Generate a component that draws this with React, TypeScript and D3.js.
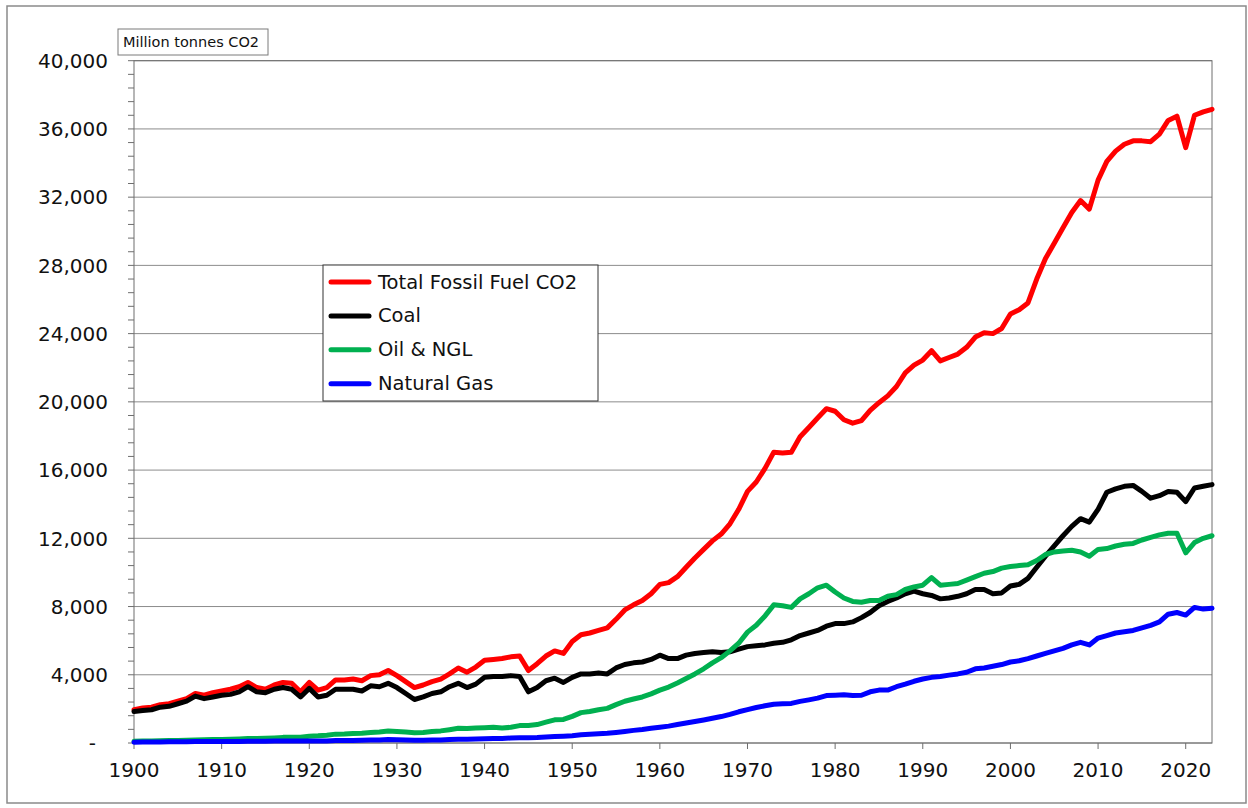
import React from "react";
import * as d3 from "d3";

const START_YEAR = 1900;

const totalCO2 = [
  1950, 2050, 2100, 2250, 2300, 2450, 2600, 2900, 2800, 2950,
  3050, 3150, 3300, 3550, 3250, 3150, 3400, 3550, 3500, 3000,
  3550, 3100, 3250, 3700, 3700, 3750, 3650, 3950, 4000, 4250,
  3950, 3600, 3250, 3400, 3600, 3750, 4050, 4400, 4150, 4450,
  4850, 4900, 4950, 5050, 5100, 4250, 4650, 5100, 5400, 5250,
  5950, 6350, 6450, 6600, 6750, 7250, 7800, 8100, 8350, 8750,
  9300, 9400, 9750, 10300, 10850, 11350, 11850, 12250, 12850, 13700,
  14750, 15300, 16100, 17050, 17000, 17050, 17950, 18500, 19050, 19600,
  19450, 18950, 18750, 18900, 19500, 19950, 20350, 20900, 21700, 22150,
  22450, 23000, 22400, 22600, 22800, 23200, 23800, 24050, 24000, 24300,
  25150, 25400, 25800, 27200, 28400, 29300, 30200, 31100, 31800, 31300,
  33000, 34100, 34700, 35100, 35300, 35300, 35250, 35700, 36500, 36750,
  34900, 36800, 37000, 37150,
];

const coal = [
  1850, 1900, 1950, 2100, 2150, 2300, 2450, 2750, 2600, 2700,
  2800, 2850, 3000, 3300, 3000, 2950, 3150, 3250, 3150, 2700,
  3200, 2700, 2800, 3150, 3150, 3150, 3050, 3350, 3300, 3500,
  3250, 2900, 2550, 2700, 2900, 3000, 3300, 3500, 3250, 3450,
  3850, 3900, 3900, 3950, 3900, 3000, 3250, 3650, 3800, 3550,
  3850, 4050, 4050, 4100, 4050, 4400, 4600, 4700, 4750, 4900,
  5150, 4950, 4950, 5150, 5250, 5300, 5350, 5300, 5350, 5500,
  5650, 5700, 5750, 5850, 5900, 6050, 6300, 6450, 6600, 6850,
  7000, 7000, 7100, 7350, 7650, 8050, 8300, 8500, 8750, 8900,
  8750, 8650, 8450, 8500, 8600, 8750, 9000, 9000, 8750, 8800,
  9200, 9300, 9650, 10300, 10950, 11550, 12150, 12700, 13150, 12950,
  13700, 14700, 14900, 15050, 15100, 14750, 14350, 14500, 14750, 14700,
  14150, 14950, 15050, 15150,
];

const oilNGL = [
  100, 110, 120, 130, 140, 150, 160, 180, 190, 200,
  210, 220, 240, 260, 270, 280, 300, 330, 330, 340,
  400, 420, 460, 520, 530, 560, 570, 620, 650, 700,
  680, 640, 600, 620, 680, 710, 780, 860, 850, 880,
  900, 930, 880, 920, 1020, 1030, 1080, 1220, 1360, 1380,
  1560, 1780, 1850, 1950, 2030, 2250, 2450, 2580, 2700, 2880,
  3100, 3280, 3520, 3780, 4050, 4350, 4700, 5000, 5400, 5850,
  6500, 6900, 7450, 8100, 8050, 7950, 8450, 8750, 9100, 9250,
  8850, 8500, 8300, 8250, 8350, 8350, 8600, 8700, 9000, 9150,
  9250, 9700, 9250, 9300, 9350, 9550, 9750, 9950, 10050, 10250,
  10350, 10400, 10450, 10700, 11050, 11200, 11250, 11300, 11200, 10950,
  11350, 11400, 11550, 11650, 11700, 11900, 12050, 12200, 12300, 12300,
  11150, 11750, 12000, 12150,
];

const naturalGas = [
  50, 55, 60, 65, 70, 75, 80, 85, 85, 90,
  90, 95, 95, 100, 100, 100, 110, 110, 110, 110,
  120, 110, 120, 140, 150, 150, 160, 170, 180, 200,
  190, 170, 160, 160, 170, 180, 200, 220, 220, 230,
  250, 260, 270, 290, 310, 310, 320, 350, 380, 400,
  430, 480, 510, 540, 570, 620, 680, 740, 790, 860,
  920, 990, 1080, 1170, 1260, 1350, 1450, 1550, 1680, 1830,
  1960, 2080, 2180, 2270, 2300, 2320, 2440, 2530, 2630, 2780,
  2800, 2830, 2780, 2800, 3000, 3100, 3100, 3300, 3450, 3620,
  3750, 3850, 3900, 3980, 4050, 4150, 4350, 4400, 4500, 4600,
  4750, 4820, 4950, 5100, 5250, 5400, 5550, 5750, 5900, 5750,
  6150, 6300, 6450, 6520, 6600, 6750, 6900, 7100, 7550, 7650,
  7500, 7950, 7850, 7900,
];

const seriesNames = ["Total Fossil Fuel CO2", "Coal", "Oil & NGL", "Natural Gas"];
const seriesColors = ["#ff0000", "#000000", "#00b050", "#0000ff"];
const seriesValues = [totalCO2, coal, oilNGL, naturalGas];

const yTickValues = [0, 4000, 8000, 12000, 16000, 20000, 24000, 28000, 32000, 36000, 40000];
const yMinorTickStep = 800;
const xTickValues = [1900, 1910, 1920, 1930, 1940, 1950, 1960, 1970, 1980, 1990, 2000, 2010, 2020];
const unitLabel = "Million tonnes CO2";

const W = 1248;
const H = 808;
const plot = { left: 134, right: 1212, top: 60.7, bottom: 743 };
const FONT = "'DejaVu Sans', Verdana, sans-serif";

export default function App() {
  const x = d3.scaleLinear().domain([1900, 2023]).range([plot.left, plot.right]);
  const y = d3.scaleLinear().domain([0, 40000]).range([plot.bottom, plot.top]);
  const line = d3
    .line<number>()
    .x((_, i) => x(START_YEAR + i))
    .y((d) => y(d))
    .curve(d3.curveLinear);

  const minorTicks = d3.range(0, 40000 + 1, yMinorTickStep);
  const fmt = d3.format(",");

  const legend = { x: 323, y: 265, w: 275, h: 136 };

  return (
    <svg
      width={W}
      height={H}
      style={{ position: "absolute", left: 0, top: 0, background: "#fff" }}
      fontFamily={FONT}
    >
      <rect x={0} y={0} width={W} height={H} fill="#fff" />
      <rect x={7} y={6} width={1239} height={797} fill="#fff" stroke="#8a8a8a" strokeWidth={1.5} />

      {/* gridlines */}
      {yTickValues.map((v) => (
        <line key={"g" + v} x1={plot.left} x2={plot.right} y1={y(v)} y2={y(v)} stroke="#8c8c8c" strokeWidth={1} />
      ))}

      {/* plot frame */}
      <rect
        x={plot.left}
        y={plot.top}
        width={plot.right - plot.left}
        height={plot.bottom - plot.top}
        fill="none"
        stroke="#6e6e6e"
        strokeWidth={1}
      />

      {/* y minor ticks */}
      {minorTicks.map((v) => (
        <line key={"mt" + v} x1={plot.left - 6} x2={plot.left} y1={y(v)} y2={y(v)} stroke="#6e6e6e" strokeWidth={1} />
      ))}

      {/* y labels */}
      {yTickValues.map((v) => (
        <text
          key={"yl" + v}
          x={v === 0 ? 96 : 108}
          y={y(v)}
          dy="0.36em"
          textAnchor="end"
          fontSize={20}
          fill="#111"
        >
          {v === 0 ? "-" : fmt(v)}
        </text>
      ))}

      {/* x ticks and labels */}
      {xTickValues.map((t) => (
        <g key={"x" + t}>
          <line x1={x(t)} x2={x(t)} y1={plot.bottom} y2={plot.bottom + 6} stroke="#6e6e6e" strokeWidth={1} />
          <text x={x(t)} y={777} textAnchor="middle" fontSize={20} fill="#111">
            {t}
          </text>
        </g>
      ))}

      {/* series */}
      {seriesValues.map((vals, i) => (
        <path
          key={"s" + i}
          d={line(vals) || ""}
          fill="none"
          stroke={seriesColors[i]}
          strokeWidth={5}
          strokeLinejoin="round"
          strokeLinecap="round"
        />
      ))}

      {/* unit label box */}
      <rect x={118} y={29} width={150} height={26} fill="#fff" stroke="#7a7a7a" strokeWidth={1} />
      <text x={123} y={47} fontSize={14.5} fill="#111">
        {unitLabel}
      </text>

      {/* legend */}
      <rect x={legend.x} y={legend.y} width={legend.w} height={legend.h} fill="#fff" stroke="#333" strokeWidth={1} />
      {seriesNames.map((name, i) => {
        const baseline = 288.5 + i * 33.9;
        return (
          <g key={"lg" + i}>
            <line
              x1={331}
              x2={369}
              y1={baseline - 6.5}
              y2={baseline - 6.5}
              stroke={seriesColors[i]}
              strokeWidth={5}
              strokeLinecap="round"
            />
            <text x={378} y={baseline} fontSize={19.5} fill="#111">
              {name}
            </text>
          </g>
        );
      })}
    </svg>
  );
}
